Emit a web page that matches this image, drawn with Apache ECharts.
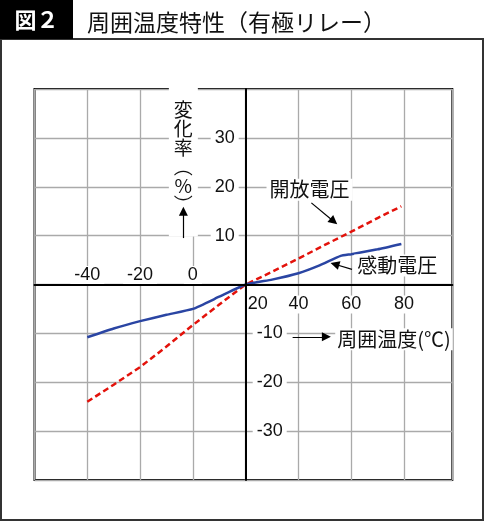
<!DOCTYPE html>
<html><head><meta charset="utf-8">
<script src="https://cdn.jsdelivr.net/npm/echarts@6/dist/echarts.min.js"></script>
<style>html,body{margin:0;padding:0;background:#fff}#c{width:485px;height:523px}</style>
</head><body><div id="c"></div>
<script>
// ---- data ----
const openTemps    = [-40, -30, -20, -10, 0, 10, 20, 30, 40, 50, 60, 70, 79];
const openVoltage  = [-24, -20.5, -16.9, -12.7, -8.3, -4.1, 0, 2.6, 5.3, 8.1, 10.8, 13.6, 16.0];
const pickTemps    = [-40, -30, -20, -10, 0, 10, 20, 30, 40, 48, 56, 60, 70, 79];
const pickVoltage  = [-10.8, -9.0, -7.5, -6.2, -5.0, -2.5, 0, 1.0, 2.3, 3.9, 5.85, 6.2, 7.2, 8.3];
const xLabelsAbove = [-40, -20, 0];
const xLabelsBelow = [20, 40, 60, 80];
const yLabelsLeft  = [10, 20, 30];
const yLabelsRight = [-10, -20, -30];
const seriesNames  = ['開放電圧', '感動電圧'];
const xName = '周囲温度(℃)';
const yName = '変\n化\n率\n︵\n%\n︶';
const figNo = '図２';
const figTitle = '周囲温度特性（有極リレー）';

const NUM_FONT = '"Liberation Sans", Arial, sans-serif';
const JP_FONT = '"Noto Sans CJK JP", sans-serif';
const X_MIN = -60, X_MAX = 98.3, Y_MIN = -40, Y_MAX = 40;

const chart = echarts.init(document.getElementById('c'), null, {renderer: 'canvas'});

const gridLine = {show: true, lineStyle: {color: '#aaa', width: 1.3}};
const hidden = {show: false};
function numLabel(list, margin, special) {
  return {
    show: true, margin: margin, color: '#111', fontSize: 18, fontFamily: NUM_FONT,
    formatter: v => list.indexOf(v) >= 0 ? (special && v === special ? '{s|' + v + '}' : '{b|' + v + '}') : '',
    rich: {
      b: {fontSize: 18, fontFamily: NUM_FONT, color: '#111', backgroundColor: '#fff', padding: [0, 4]},
      s: {fontSize: 18, fontFamily: NUM_FONT, color: '#111', padding: [0, 0, 0, 24]}
    }
  };
}
const xBase = {type: 'value', min: X_MIN, max: X_MAX, interval: 20, axisTick: hidden};
const yBase = {type: 'value', min: Y_MIN, max: Y_MAX, interval: 10, axisTick: hidden};

const option = {
  animation: false,
  grid: {left: 34.5, right: 32.7, top: 89, bottom: 43, show: true, borderColor: '#000', borderWidth: 2, outerBoundsMode: 'none'},
  xAxis: [
    Object.assign({}, xBase, {position: 'bottom', offset: -195.5, z: 5,
      axisLine: {show: true, onZero: false, lineStyle: {color: '#000', width: 2}},
      splitLine: hidden, axisLabel: numLabel(xLabelsBelow, 11, 20)}),
    Object.assign({}, xBase, {position: 'top', offset: -195.5, z: 5,
      axisLine: {show: false, onZero: false},
      splitLine: hidden, axisLabel: numLabel(xLabelsAbove, 0.5)}),
    Object.assign({}, xBase, {position: 'bottom', z: 0,
      axisLine: {show: false, onZero: false}, splitLine: gridLine, axisLabel: hidden})
  ],
  yAxis: [
    Object.assign({}, yBase, {position: 'left', offset: -211.2, z: 5,
      axisLine: {show: true, onZero: false, lineStyle: {color: '#000', width: 2}},
      splitLine: hidden, axisLabel: numLabel(yLabelsLeft, 7)}),
    Object.assign({}, yBase, {position: 'right', offset: -206.6, z: 5,
      axisLine: {show: false, onZero: false},
      splitLine: hidden, axisLabel: numLabel(yLabelsRight, 7)}),
    Object.assign({}, yBase, {position: 'left', z: 0,
      axisLine: {show: false, onZero: false}, splitLine: gridLine, axisLabel: hidden})
  ],
  graphic: [
    {type: 'rect', z: 10, shape: {x: 1, y: 39, width: 482, height: 481}, style: {fill: 'none', stroke: '#333', lineWidth: 2}},
    {type: 'rect', z: 11, shape: {x: 0, y: 0, width: 73, height: 39}, style: {fill: '#000'}},
    {type: 'text', z: 12, x: 36.5, y: 20, style: {text: figNo, fill: '#fff', font: 'bold 22px ' + JP_FONT, textAlign: 'center', textVerticalAlign: 'middle'}},
    {type: 'text', z: 12, x: 87, y: 22, style: {text: figTitle, fill: '#111', font: '23px ' + JP_FONT, textAlign: 'left', textVerticalAlign: 'middle'}}
  ],
  series: [
    {
      name: seriesNames[0], type: 'line', xAxisIndex: 0, yAxisIndex: 0, z: 3,
      data: openTemps.map((t, i) => [t, openVoltage[i]]),
      showSymbol: false, symbol: 'none',
      lineStyle: {color: '#e3120b', width: 2.5, type: [6, 3.5]},
      markPoint: {
        z: 4, symbol: 'circle', symbolSize: 0, silent: true,
        itemStyle: {color: 'rgba(0,0,0,0)'},
        label: {show: true, position: 'inside', color: '#111', fontFamily: JP_FONT, fontSize: 20, backgroundColor: '#fff', padding: [1, 3]},
        data: [
          {coord: [44.2, 19.4], label: {formatter: seriesNames[0]}},
          {coord: [77.4, 3.9], label: {formatter: seriesNames[1]}},
          {coord: [76.2, -11.2], label: {formatter: xName, padding: [1, 2]}},
          {coord: [-3.6, 26.0], label: {formatter: yName, lineHeight: 19, fontSize: 19, align: 'center', padding: [4, 5, 40, 5]}}
        ]
      },
      markLine: {
        z: 6, silent: true, symbol: ['none', 'triangle'], symbolSize: 9,
        label: {show: false},
        lineStyle: {color: '#000', width: 1.2, type: 'solid'},
        emphasis: {disabled: true},
        data: [
          [{coord: [-3.6, 9.5]}, {coord: [-3.6, 15.0]}],
          [{coord: [37.8, -10.7]}, {coord: [50.6, -10.7]}],
          [{coord: [44.9, 16.7]}, {coord: [53.4, 12.9]}],
          [{coord: [60.3, 3.1]}, {coord: [53.8, 4.15]}]
        ]
      }
    },
    {
      name: seriesNames[1], type: 'line', xAxisIndex: 0, yAxisIndex: 0, z: 3,
      data: pickTemps.map((t, i) => [t, pickVoltage[i]]),
      showSymbol: false, symbol: 'none', smooth: 0.15,
      lineStyle: {color: '#2a45a3', width: 2.5}
    }
  ]
};
chart.setOption(option);
</script></body></html>
